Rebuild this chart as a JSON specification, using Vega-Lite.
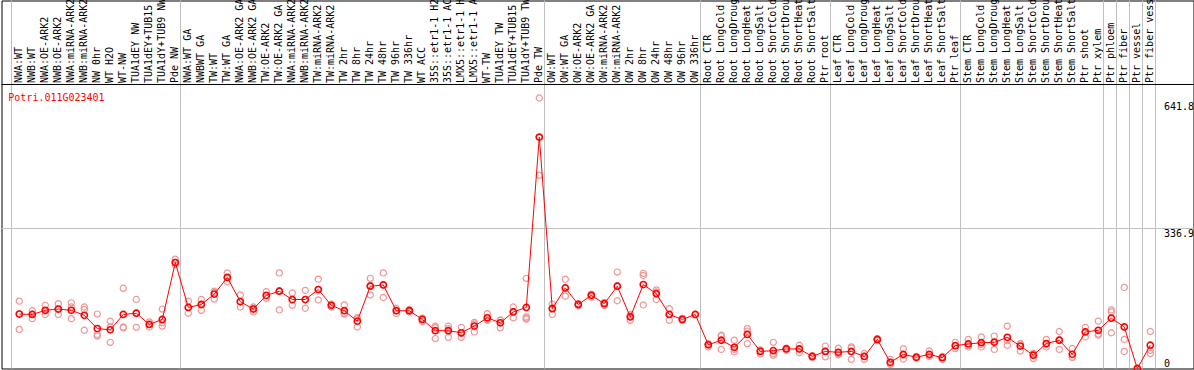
{
  "$schema": "https://vega.github.io/schema/vega-lite/v6.json",
  "width": 1192,
  "height": 368,
  "autosize": "none",
  "padding": {"left": 1.5, "top": 0.5, "right": 0.5, "bottom": 1.5},
  "background": "white",
  "config": {"view": {"stroke": "#000000", "strokeWidth": 1}},
  "datasets": {
    "means": [
      {"s":"NWA:WT","v":131},{"s":"NWB:WT","v":130},{"s":"NWA:OE-ARK2","v":140},{"s":"NWB:OE-ARK2","v":143},{"s":"NWA:miRNA-ARK2","v":140},{"s":"NWB:miRNA-ARK2","v":128},{"s":"NW 0hr","v":96},{"s":"WT H2O","v":93},{"s":"WT-NW","v":130},{"s":"TUA1dEY NW","v":133},{"s":"TUA1dEY+TUB15 NW","v":106},{"s":"TUA1dY+TUB9 NW","v":118},{"s":"Pde NW","v":255},
      {"s":"NWA:WT GA","v":147},{"s":"NWBWT GA","v":154},{"s":"TW:WT","v":179},{"s":"TW:WT GA","v":219},{"s":"NWA:OE-ARK2 GA","v":161},{"s":"NWB:OE-ARK2 GA","v":143},{"s":"TW:OE-ARK2","v":176},{"s":"TW:OE-ARK2 GA","v":186},{"s":"NWA:miRNA-ARK2 GA","v":166},{"s":"NWB:miRNA-ARK2 GA","v":166},{"s":"TW:miRNA-ARK2","v":190},{"s":"TW:miRNA-ARK2 GA","v":152},{"s":"TW 2hr","v":139},{"s":"TW 8hr","v":114},{"s":"TW 24hr","v":198},{"s":"TW 48hr","v":201},{"s":"TW 96hr","v":139},{"s":"TW 336hr","v":139},{"s":"WT ACC","v":118},{"s":"35S::etr1-1 H2O","v":91},{"s":"35S::etr1-1 ACC","v":91},{"s":"LMX5::etr1-1 H2O","v":86},{"s":"LMX5::etr1-1 ACC","v":102},{"s":"WT-TW","v":122},{"s":"TUA1dEY TW","v":110},{"s":"TUA1dEY+TUB15 TW","v":136},{"s":"TUA1dY+TUB9 TW","v":147},{"s":"Pde TW","v":557},
      {"s":"OW:WT","v":144},{"s":"OW:WT GA","v":194},{"s":"OW:OE-ARK2","v":154},{"s":"OW:OE-ARK2 GA","v":176},{"s":"OW:miRNA-ARK2","v":156},{"s":"OW:miRNA-ARK2 GA","v":198},{"s":"OW 2hr","v":124},{"s":"OW 8hr","v":202},{"s":"OW 24hr","v":180},{"s":"OW 48hr","v":130},{"s":"OW 96hr","v":118},{"s":"OW 336hr","v":130},
      {"s":"Root CTR","v":57},{"s":"Root LongCold","v":68},{"s":"Root LongDrought","v":51},{"s":"Root LongHeat","v":82},{"s":"Root LongSalt","v":41},{"s":"Root ShortCold","v":43},{"s":"Root ShortDrought","v":47},{"s":"Root ShortHeat","v":47},{"s":"Root ShortSalt","v":29},{"s":"Ptr root","v":41},
      {"s":"Leaf CTR","v":39},{"s":"Leaf LongCold","v":41},{"s":"Leaf LongDrought","v":29},{"s":"Leaf LongHeat","v":70},{"s":"Leaf LongSalt","v":15},{"s":"Leaf ShortCold","v":34},{"s":"Leaf ShortDrought","v":27},{"s":"Leaf ShortHeat","v":34},{"s":"Leaf ShortSalt","v":26},{"s":"Ptr leaf","v":55},
      {"s":"Stem CTR","v":59},{"s":"Stem LongCold","v":62},{"s":"Stem LongDrought","v":63},{"s":"Stem LongHeat","v":75},{"s":"Stem LongSalt","v":54},{"s":"Stem ShortCold","v":32},{"s":"Stem ShortDrought","v":60},{"s":"Stem ShortHeat","v":68},{"s":"Stem ShortSalt","v":34},
      {"s":"Ptr shoot","v":88},{"s":"Ptr xylem","v":92},{"s":"Ptr phloem","v":121},{"s":"Ptr fiber","v":100},{"s":"Ptr vessel","v":0},{"s":"Ptr fiber vessel","v":56}
    ],
    "reps": [
      {"s":"NWA:WT","v":162},{"s":"NWA:WT","v":94},{"s":"NWA:WT","v":131},
      {"s":"NWB:WT","v":139},{"s":"NWB:WT","v":120},{"s":"NWB:WT","v":131},
      {"s":"NWA:OE-ARK2","v":152},{"s":"NWA:OE-ARK2","v":130},{"s":"NWA:OE-ARK2","v":138},
      {"s":"NWB:OE-ARK2","v":156},{"s":"NWB:OE-ARK2","v":130},{"s":"NWB:OE-ARK2","v":143},
      {"s":"NWA:miRNA-ARK2","v":158},{"s":"NWA:miRNA-ARK2","v":120},{"s":"NWA:miRNA-ARK2","v":148},
      {"s":"NWB:miRNA-ARK2","v":148},{"s":"NWB:miRNA-ARK2","v":142},{"s":"NWB:miRNA-ARK2","v":92},
      {"s":"NW 0hr","v":131},{"s":"NW 0hr","v":82},{"s":"NW 0hr","v":78},
      {"s":"WT H2O","v":114},{"s":"WT H2O","v":100},{"s":"WT H2O","v":63},
      {"s":"WT-NW","v":193},{"s":"WT-NW","v":100},{"s":"WT-NW","v":98},
      {"s":"TUA1dEY NW","v":166},{"s":"TUA1dEY NW","v":99},{"s":"TUA1dEY NW","v":133},
      {"s":"TUA1dEY+TUB15 NW","v":112},{"s":"TUA1dEY+TUB15 NW","v":100},{"s":"TUA1dEY+TUB15 NW","v":106},
      {"s":"TUA1dY+TUB9 NW","v":143},{"s":"TUA1dY+TUB9 NW","v":102},{"s":"TUA1dY+TUB9 NW","v":110},
      {"s":"Pde NW","v":263},{"s":"Pde NW","v":255},{"s":"Pde NW","v":250},
      {"s":"NWA:WT GA","v":162},{"s":"NWA:WT GA","v":133},{"s":"NWA:WT GA","v":147},
      {"s":"NWBWT GA","v":166},{"s":"NWBWT GA","v":140},{"s":"NWBWT GA","v":154},
      {"s":"TW:WT","v":186},{"s":"TW:WT","v":167},{"s":"TW:WT","v":183},
      {"s":"TW:WT GA","v":230},{"s":"TW:WT GA","v":209},{"s":"TW:WT GA","v":219},
      {"s":"NWA:OE-ARK2 GA","v":177},{"s":"NWA:OE-ARK2 GA","v":148},{"s":"NWA:OE-ARK2 GA","v":160},
      {"s":"NWB:OE-ARK2 GA","v":136},{"s":"NWB:OE-ARK2 GA","v":145},{"s":"NWB:OE-ARK2 GA","v":148},
      {"s":"TW:OE-ARK2","v":185},{"s":"TW:OE-ARK2","v":169},{"s":"TW:OE-ARK2","v":175},
      {"s":"TW:OE-ARK2 GA","v":230},{"s":"TW:OE-ARK2 GA","v":141},{"s":"TW:OE-ARK2 GA","v":187},
      {"s":"NWA:miRNA-ARK2 GA","v":182},{"s":"NWA:miRNA-ARK2 GA","v":152},{"s":"NWA:miRNA-ARK2 GA","v":165},
      {"s":"NWB:miRNA-ARK2 GA","v":188},{"s":"NWB:miRNA-ARK2 GA","v":145},{"s":"NWB:miRNA-ARK2 GA","v":166},
      {"s":"TW:miRNA-ARK2","v":215},{"s":"TW:miRNA-ARK2","v":165},{"s":"TW:miRNA-ARK2","v":190},
      {"s":"TW:miRNA-ARK2 GA","v":155},{"s":"TW:miRNA-ARK2 GA","v":148},{"s":"TW:miRNA-ARK2 GA","v":152},
      {"s":"TW 2hr","v":153},{"s":"TW 2hr","v":131},{"s":"TW 2hr","v":133},
      {"s":"TW 8hr","v":122},{"s":"TW 8hr","v":100},{"s":"TW 8hr","v":120},
      {"s":"TW 24hr","v":217},{"s":"TW 24hr","v":177},{"s":"TW 24hr","v":200},
      {"s":"TW 48hr","v":230},{"s":"TW 48hr","v":171},{"s":"TW 48hr","v":201},
      {"s":"TW 96hr","v":145},{"s":"TW 96hr","v":132},{"s":"TW 96hr","v":139},
      {"s":"TW 336hr","v":142},{"s":"TW 336hr","v":136},{"s":"TW 336hr","v":139},
      {"s":"WT ACC","v":121},{"s":"WT ACC","v":113},{"s":"WT ACC","v":120},
      {"s":"35S::etr1-1 H2O","v":102},{"s":"35S::etr1-1 H2O","v":72},{"s":"35S::etr1-1 H2O","v":98},
      {"s":"35S::etr1-1 ACC","v":102},{"s":"35S::etr1-1 ACC","v":75},{"s":"35S::etr1-1 ACC","v":96},
      {"s":"LMX5::etr1-1 H2O","v":99},{"s":"LMX5::etr1-1 H2O","v":75},{"s":"LMX5::etr1-1 H2O","v":84},
      {"s":"LMX5::etr1-1 ACC","v":111},{"s":"LMX5::etr1-1 ACC","v":88},{"s":"LMX5::etr1-1 ACC","v":107},
      {"s":"WT-TW","v":132},{"s":"WT-TW","v":118},{"s":"WT-TW","v":116},
      {"s":"TUA1dEY TW","v":116},{"s":"TUA1dEY TW","v":98},{"s":"TUA1dEY TW","v":116},
      {"s":"TUA1dEY+TUB15 TW","v":148},{"s":"TUA1dEY+TUB15 TW","v":122},{"s":"TUA1dEY+TUB15 TW","v":137},
      {"s":"TUA1dY+TUB9 TW","v":217},{"s":"TUA1dY+TUB9 TW","v":124},{"s":"TUA1dY+TUB9 TW","v":121},{"s":"TUA1dY+TUB9 TW","v":119},
      {"s":"Pde TW","v":651},{"s":"Pde TW","v":465},{"s":"Pde TW","v":556},
      {"s":"OW:WT","v":155},{"s":"OW:WT","v":130},{"s":"OW:WT","v":146},
      {"s":"OW:WT GA","v":215},{"s":"OW:WT GA","v":174},{"s":"OW:WT GA","v":193},
      {"s":"OW:OE-ARK2","v":156},{"s":"OW:OE-ARK2","v":151},{"s":"OW:OE-ARK2","v":154},
      {"s":"OW:OE-ARK2 GA","v":179},{"s":"OW:OE-ARK2 GA","v":172},{"s":"OW:OE-ARK2 GA","v":176},
      {"s":"OW:miRNA-ARK2","v":159},{"s":"OW:miRNA-ARK2","v":152},{"s":"OW:miRNA-ARK2","v":157},
      {"s":"OW:miRNA-ARK2 GA","v":232},{"s":"OW:miRNA-ARK2 GA","v":163},{"s":"OW:miRNA-ARK2 GA","v":199},
      {"s":"OW 2hr","v":130},{"s":"OW 2hr","v":116},{"s":"OW 2hr","v":127},
      {"s":"OW 8hr","v":229},{"s":"OW 8hr","v":153},{"s":"OW 8hr","v":224},
      {"s":"OW 24hr","v":189},{"s":"OW 24hr","v":166},{"s":"OW 24hr","v":184},
      {"s":"OW 48hr","v":144},{"s":"OW 48hr","v":116},{"s":"OW 48hr","v":130},
      {"s":"OW 96hr","v":121},{"s":"OW 96hr","v":116},{"s":"OW 96hr","v":118},
      {"s":"OW 336hr","v":130},
      {"s":"Root CTR","v":59},{"s":"Root CTR","v":52},{"s":"Root CTR","v":60},
      {"s":"Root LongCold","v":80},{"s":"Root LongCold","v":46},{"s":"Root LongCold","v":78},
      {"s":"Root LongDrought","v":68},{"s":"Root LongDrought","v":40},{"s":"Root LongDrought","v":46},
      {"s":"Root LongHeat","v":96},{"s":"Root LongHeat","v":60},{"s":"Root LongHeat","v":90},
      {"s":"Root LongSalt","v":44},{"s":"Root LongSalt","v":35},{"s":"Root LongSalt","v":44},
      {"s":"Root ShortCold","v":63},{"s":"Root ShortCold","v":32},{"s":"Root ShortCold","v":35},
      {"s":"Root ShortDrought","v":49},{"s":"Root ShortDrought","v":44},{"s":"Root ShortDrought","v":48},
      {"s":"Root ShortHeat","v":56},{"s":"Root ShortHeat","v":38},{"s":"Root ShortHeat","v":47},
      {"s":"Root ShortSalt","v":31},{"s":"Root ShortSalt","v":26},{"s":"Root ShortSalt","v":30},
      {"s":"Ptr root","v":54},{"s":"Ptr root","v":28},{"s":"Ptr root","v":41},
      {"s":"Leaf CTR","v":49},{"s":"Leaf CTR","v":33},{"s":"Leaf CTR","v":36},
      {"s":"Leaf LongCold","v":52},{"s":"Leaf LongCold","v":22},{"s":"Leaf LongCold","v":49},
      {"s":"Leaf LongDrought","v":36},{"s":"Leaf LongDrought","v":22},{"s":"Leaf LongDrought","v":29},
      {"s":"Leaf LongHeat","v":72},{"s":"Leaf LongHeat","v":67},{"s":"Leaf LongHeat","v":71},
      {"s":"Leaf LongSalt","v":22},{"s":"Leaf LongSalt","v":10},{"s":"Leaf LongSalt","v":13},
      {"s":"Leaf ShortCold","v":47},{"s":"Leaf ShortCold","v":23},{"s":"Leaf ShortCold","v":32},
      {"s":"Leaf ShortDrought","v":29},{"s":"Leaf ShortDrought","v":25},{"s":"Leaf ShortDrought","v":27},
      {"s":"Leaf ShortHeat","v":42},{"s":"Leaf ShortHeat","v":29},{"s":"Leaf ShortHeat","v":31},
      {"s":"Leaf ShortSalt","v":29},{"s":"Leaf ShortSalt","v":22},{"s":"Leaf ShortSalt","v":27},
      {"s":"Ptr leaf","v":63},{"s":"Ptr leaf","v":48},{"s":"Ptr leaf","v":55},
      {"s":"Stem CTR","v":70},{"s":"Stem CTR","v":52},{"s":"Stem CTR","v":55},
      {"s":"Stem LongCold","v":76},{"s":"Stem LongCold","v":52},{"s":"Stem LongCold","v":58},
      {"s":"Stem LongDrought","v":78},{"s":"Stem LongDrought","v":46},{"s":"Stem LongDrought","v":65},
      {"s":"Stem LongHeat","v":102},{"s":"Stem LongHeat","v":56},{"s":"Stem LongHeat","v":67},
      {"s":"Stem LongSalt","v":60},{"s":"Stem LongSalt","v":42},{"s":"Stem LongSalt","v":59},
      {"s":"Stem ShortCold","v":35},{"s":"Stem ShortCold","v":24},{"s":"Stem ShortCold","v":37},
      {"s":"Stem ShortDrought","v":70},{"s":"Stem ShortDrought","v":52},{"s":"Stem ShortDrought","v":58},
      {"s":"Stem ShortHeat","v":89},{"s":"Stem ShortHeat","v":46},{"s":"Stem ShortHeat","v":69},
      {"s":"Stem ShortSalt","v":48},{"s":"Stem ShortSalt","v":27},{"s":"Stem ShortSalt","v":27},
      {"s":"Ptr shoot","v":99},{"s":"Ptr shoot","v":76},{"s":"Ptr shoot","v":88},
      {"s":"Ptr xylem","v":114},{"s":"Ptr xylem","v":80},{"s":"Ptr xylem","v":83},
      {"s":"Ptr phloem","v":141},{"s":"Ptr phloem","v":136},{"s":"Ptr phloem","v":86},
      {"s":"Ptr fiber","v":195},{"s":"Ptr fiber","v":70},{"s":"Ptr fiber","v":41},
      {"s":"Ptr vessel","v":0},
      {"s":"Ptr fiber vessel","v":89},{"s":"Ptr fiber vessel","v":44},{"s":"Ptr fiber vessel","v":36}
    ],
    "groupStarts": [
      {"s":"NWA:WT"},{"s":"NWA:WT GA"},{"s":"OW:WT"},{"s":"Root CTR"},{"s":"Leaf CTR"},{"s":"Stem CTR"},{"s":"Ptr phloem"},{"s":"Ptr fiber"},{"s":"Ptr vessel"},{"s":"Ptr fiber vessel"}
    ],
    "groupEnds": [{"s":"Ptr fiber vessel"}],
    "gene": [{"t":"Potri.011G023401"}]
  },
  "layer": [
    {
      "data": {"name": "groupStarts"},
      "mark": {"type": "rule", "color": "#c0c0c0", "strokeWidth": 1, "xOffset": -1.3},
      "encoding": {
        "x": {
          "field": "s", "type": "nominal", "bandPosition": 0,
          "scale": {
            "type": "band",
            "domain": ["NWA:WT","NWB:WT","NWA:OE-ARK2","NWB:OE-ARK2","NWA:miRNA-ARK2","NWB:miRNA-ARK2","NW 0hr","WT H2O","WT-NW","TUA1dEY NW","TUA1dEY+TUB15 NW","TUA1dY+TUB9 NW","Pde NW","NWA:WT GA","NWBWT GA","TW:WT","TW:WT GA","NWA:OE-ARK2 GA","NWB:OE-ARK2 GA","TW:OE-ARK2","TW:OE-ARK2 GA","NWA:miRNA-ARK2 GA","NWB:miRNA-ARK2 GA","TW:miRNA-ARK2","TW:miRNA-ARK2 GA","TW 2hr","TW 8hr","TW 24hr","TW 48hr","TW 96hr","TW 336hr","WT ACC","35S::etr1-1 H2O","35S::etr1-1 ACC","LMX5::etr1-1 H2O","LMX5::etr1-1 ACC","WT-TW","TUA1dEY TW","TUA1dEY+TUB15 TW","TUA1dY+TUB9 TW","Pde TW","OW:WT","OW:WT GA","OW:OE-ARK2","OW:OE-ARK2 GA","OW:miRNA-ARK2","OW:miRNA-ARK2 GA","OW 2hr","OW 8hr","OW 24hr","OW 48hr","OW 96hr","OW 336hr","Root CTR","Root LongCold","Root LongDrought","Root LongHeat","Root LongSalt","Root ShortCold","Root ShortDrought","Root ShortHeat","Root ShortSalt","Ptr root","Leaf CTR","Leaf LongCold","Leaf LongDrought","Leaf LongHeat","Leaf LongSalt","Leaf ShortCold","Leaf ShortDrought","Leaf ShortHeat","Leaf ShortSalt","Ptr leaf","Stem CTR","Stem LongCold","Stem LongDrought","Stem LongHeat","Stem LongSalt","Stem ShortCold","Stem ShortDrought","Stem ShortHeat","Stem ShortSalt","Ptr shoot","Ptr xylem","Ptr phloem","Ptr fiber","Ptr vessel","Ptr fiber vessel"],
            "range": [11.3, 1155.3],
            "paddingInner": 0, "paddingOuter": 0, "round": false
          },
          "axis": {
            "orient": "top", "offset": -84, "title": null, "ticks": false, "tickSize": 0,
            "labelAngle": -90, "labelAlign": "left", "labelBaseline": "middle", "labelPadding": 2,
            "labelFont": "DejaVu Sans Mono", "labelFontSize": 10, "labelColor": "#000000",
            "labelOverlap": false, "labelFlush": false, "labelBound": false,
            "domain": false, "grid": false
          }
        }
      }
    },
    {
      "data": {"name": "groupEnds"},
      "mark": {"type": "rule", "color": "#c0c0c0", "strokeWidth": 1, "xOffset": -1.3},
      "encoding": {"x": {"field": "s", "type": "nominal", "bandPosition": 1}}
    },
    {
      "data": {"name": "gene"},
      "mark": {"type": "rule", "color": "#c0c0c0", "strokeWidth": 1},
      "encoding": {"y": {"datum": 336.9, "type": "quantitative"}}
    },
    {
      "data": {"name": "gene"},
      "mark": {"type": "rule", "color": "#000000", "strokeWidth": 1},
      "encoding": {"y": {"datum": 683.5, "type": "quantitative"}}
    },
    {
      "data": {"name": "reps"},
      "mark": {"type": "point", "shape": "circle", "filled": false, "size": 38, "stroke": "#f09696", "strokeWidth": 1.2, "opacity": 1},
      "encoding": {
        "x": {"field": "s", "type": "nominal"},
        "y": {
          "field": "v", "type": "quantitative",
          "scale": {"domain": [0, 885.6], "nice": false, "zero": true},
          "axis": {
            "orient": "right", "offset": -30, "title": null, "values": [0, 336.9, 641.8],
            "grid": false, "domain": false, "ticks": false, "tickSize": 0, "labelPadding": 0,
            "labelAlign": "left",
            "labelBaseline": {"condition": {"test": "datum.value === 0", "value": "bottom"}, "value": "top"},
            "labelExpr": "'' + datum.value",
            "labelFont": "DejaVu Sans Mono", "labelFontSize": 10, "labelColor": "#000000",
            "labelOverlap": false, "labelFlush": false, "labelBound": false
          }
        }
      }
    },
    {
      "data": {"name": "means"},
      "mark": {"type": "line", "color": "#ff0000", "strokeWidth": 1},
      "encoding": {
        "x": {"field": "s", "type": "nominal"},
        "y": {"field": "v", "type": "quantitative"},
        "order": {"value": null}
      }
    },
    {
      "data": {"name": "means"},
      "mark": {"type": "point", "shape": "circle", "filled": false, "size": 38, "stroke": "#ff0000", "strokeWidth": 1.6, "opacity": 1},
      "encoding": {
        "x": {"field": "s", "type": "nominal"},
        "y": {"field": "v", "type": "quantitative"}
      }
    },
    {
      "data": {"name": "gene"},
      "mark": {"type": "text", "color": "#ff0000", "font": "DejaVu Sans Mono", "fontSize": 10, "align": "left", "baseline": "alphabetic", "dx": -11},
      "encoding": {
        "x": {"datum": "NWA:WT", "type": "nominal"},
        "y": {"datum": 644, "type": "quantitative"},
        "text": {"field": "t"}
      }
    }
  ]
}
